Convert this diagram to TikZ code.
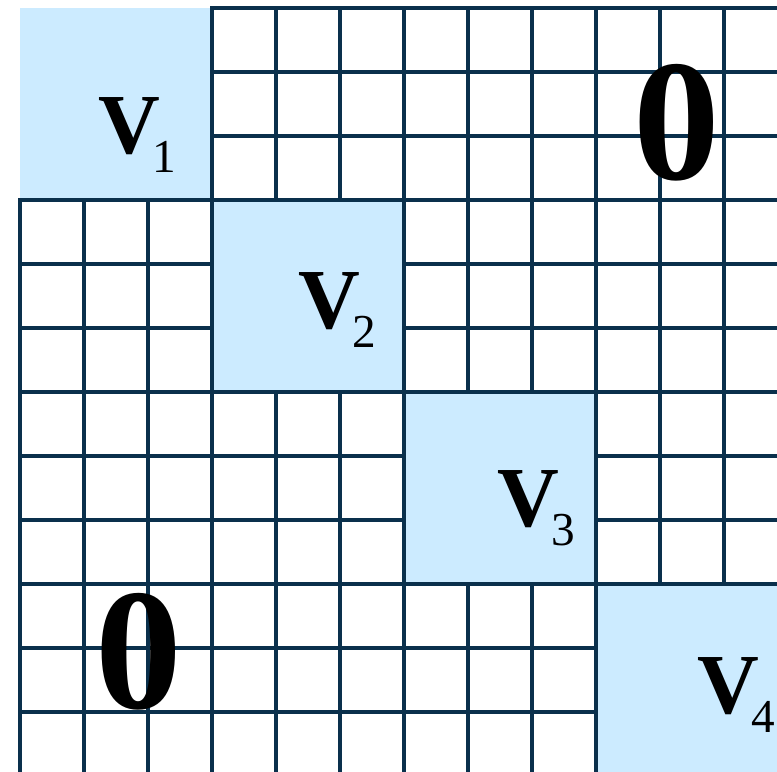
\documentclass[tikz,border=0pt]{standalone}
\usepackage{fontspec}
\setmainfont{Liberation Serif}
\usepackage{tikz}

\definecolor{lineanavy}{RGB}{10,48,76}
\definecolor{bloqueazul}{RGB}{204,235,255}

% etiqueta de bloque: V negrita con subindice
\newcommand{\vblk}[1]{{\fontsize{38}{38}\selectfont\bfseries V}\kern-3.5pt\raisebox{-8.5pt}{\fontsize{21}{21}\selectfont #1}}

\begin{document}
\begin{tikzpicture}[
    gridline/.style={line width=1.6pt, draw=lineanavy, line cap=rect},
    blockfill/.style={fill=bloqueazul},
    blocklbl/.style={anchor=base west, inner sep=0pt},
    zerolbl/.style={anchor=base, inner sep=0pt, font=\fontsize{77}{77}\selectfont\bfseries}
  ]
    \useasboundingbox (-0.3125,-11.922) rectangle (11.828,0.125);

    % Bloques diagonales
    \foreach \b in {0,...,3}
        \fill[blockfill] (3*\b,-3*\b) rectangle ++(3,-3);

    % Rejilla (sin lineas dentro de los bloques)
    \foreach \i in {0,...,12}{
        \foreach \s in {0,...,3}{
            \pgfmathtruncatemacro{\salta}{((\i>3*\s) && (\i<3*\s+3)) || ((\i==0) && (\s==0))}
            \ifnum\salta=0
                \draw[gridline] (\i,-3*\s) -- (\i,-3*\s-3);
                \draw[gridline] (3*\s,-\i) -- (3*\s+3,-\i);
            \fi
        }
    }

    % Etiquetas
    \node[blocklbl] (v1) at (1.219,-2.266) {\vblk{1}};
    \node[blocklbl] (v2) at (4.344,-5.0) {\vblk{2}};
    \node[blocklbl] (v3) at (7.453,-8.094) {\vblk{3}};
    \node[blocklbl] (v4) at (10.578,-11.016) {\vblk{4}};

    \node[zerolbl] (cerosup) at (10.266,-2.672) {0};
    \node[zerolbl] (ceroinf) at (1.859,-10.94) {0};
\end{tikzpicture}
\end{document}
